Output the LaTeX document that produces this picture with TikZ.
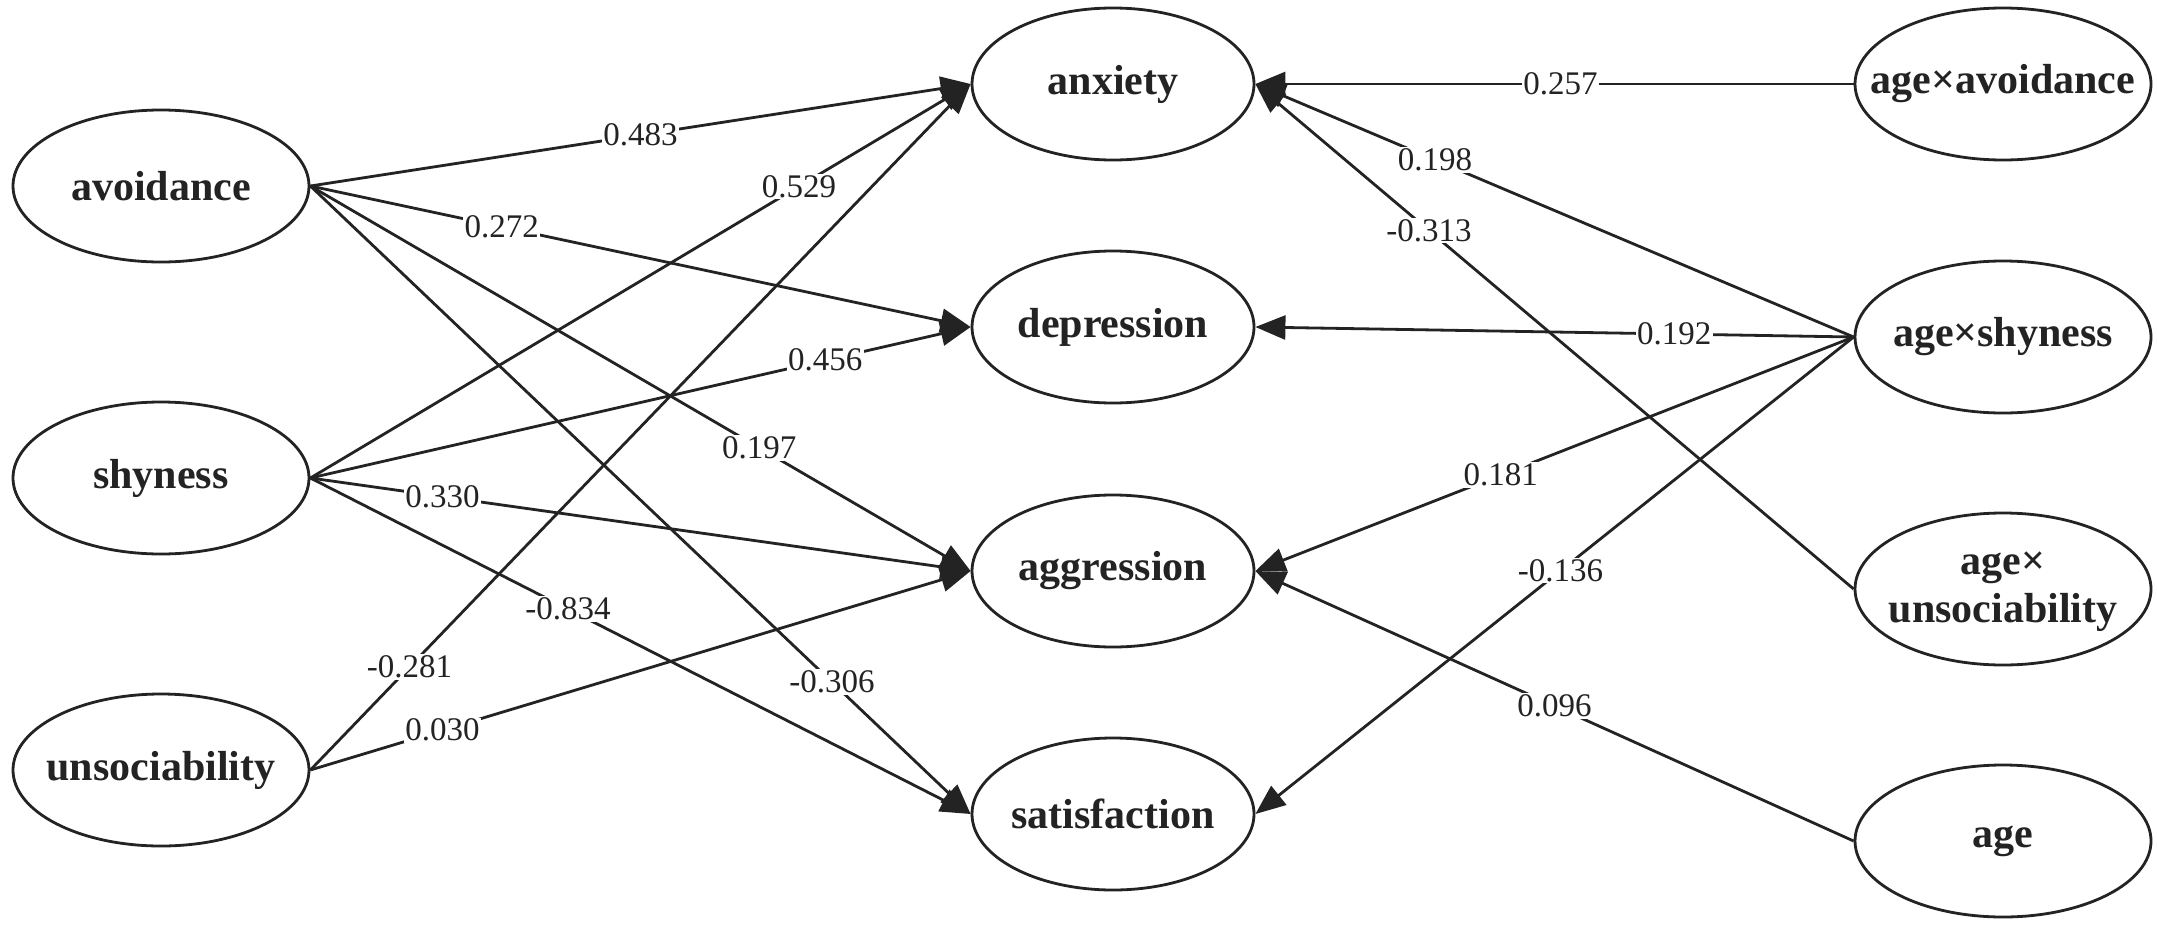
\documentclass[tikz,border=0pt]{standalone}
\usepackage{fontspec}
\setmainfont{Liberation Serif}
\usetikzlibrary{shapes.geometric,arrows.meta}
\definecolor{ink}{RGB}{35,35,35}
\begin{document}
\begin{tikzpicture}[x=1pt,y=-1pt,
  lat/.style={ellipse,draw=ink,line width=2.8pt,minimum width=296pt,minimum height=152pt,inner sep=0pt,text=ink,font=\fontsize{42}{48}\selectfont\bfseries},
  mid/.style={lat,minimum width=282pt},
  arr/.style={draw=ink,line width=2.8pt,-{Triangle[length=30pt,width=24pt]}},
  coef/.style={fill=white,inner sep=1.5pt,text=ink,font=\fontsize{33}{36}\selectfont}]
\useasboundingbox[fill=white] (0,0) rectangle (2157,929);
% left
\node[lat] (avo) at (161,186) {\makebox[0pt]{avoidance}};
\node[lat] (shy) at (161,478) {\makebox[0pt]{shyness}};
\node[lat] (uns) at (161,770) {\makebox[0pt]{unsociability}};
% middle
\node[mid] (anx) at (1113,84) {\makebox[0pt]{anxiety}};
\node[mid] (dep) at (1113,327) {\makebox[0pt]{depression}};
\node[mid] (agg) at (1113,571) {\makebox[0pt]{aggression}};
\node[mid] (sat) at (1113,814) {\makebox[0pt]{satisfaction}};
% right
\node[lat] (aav) at (2003,84) {\makebox[0pt]{age×avoidance}};
\node[lat] (ash) at (2003,337) {\makebox[0pt]{age×shyness}};
\node[lat] (aun) at (2003,589) {\makebox[0pt]{\begin{tabular}{@{}c@{}}age×\\unsociability\end{tabular}}};
\node[lat] (age) at (2003,841) {\makebox[0pt]{age}};
% left edges
\draw[arr] (avo.east) -- node[coef,pos=0.5]{0.483} (anx.west);
\draw[arr] (avo.east) -- node[coef,pos=0.29]{0.272} (dep.west);
\draw[arr] (avo.east) -- node[coef,pos=0.68]{0.197} (agg.west);
\draw[arr] (avo.east) -- node[coef,pos=0.79]{-0.306} (sat.west);
\draw[arr] (shy.east) -- node[coef,pos=0.74]{0.529} (anx.west);
\draw[arr] (shy.east) -- node[coef,pos=0.78]{0.456} (dep.west);
\draw[arr] (shy.east) -- node[coef,pos=0.2]{0.330} (agg.west);
\draw[arr] (shy.east) -- node[coef,pos=0.39]{-0.834} (sat.west);
\draw[arr] (uns.east) -- node[coef,pos=0.15]{-0.281} (anx.west);
\draw[arr] (uns.east) -- node[coef,pos=0.2]{0.030} (agg.west);
% right edges
\draw[arr] (aav.west) -- node[coef,pos=0.49]{0.257} (anx.east);
\draw[arr] (ash.west) -- node[coef,pos=0.7]{0.198} (anx.east);
\draw[arr] (aun.west) -- node[coef,pos=0.71]{-0.313} (anx.east);
\draw[arr] (ash.west) -- node[coef,pos=0.3]{0.192} (dep.east);
\draw[arr] (ash.west) -- node[coef,pos=0.59]{0.181} (agg.east);
\draw[arr] (ash.west) -- node[coef,pos=0.49]{-0.136} (sat.east);
\draw[arr] (age.west) -- node[coef,pos=0.5]{0.096} (agg.east);
\end{tikzpicture}
\end{document}
